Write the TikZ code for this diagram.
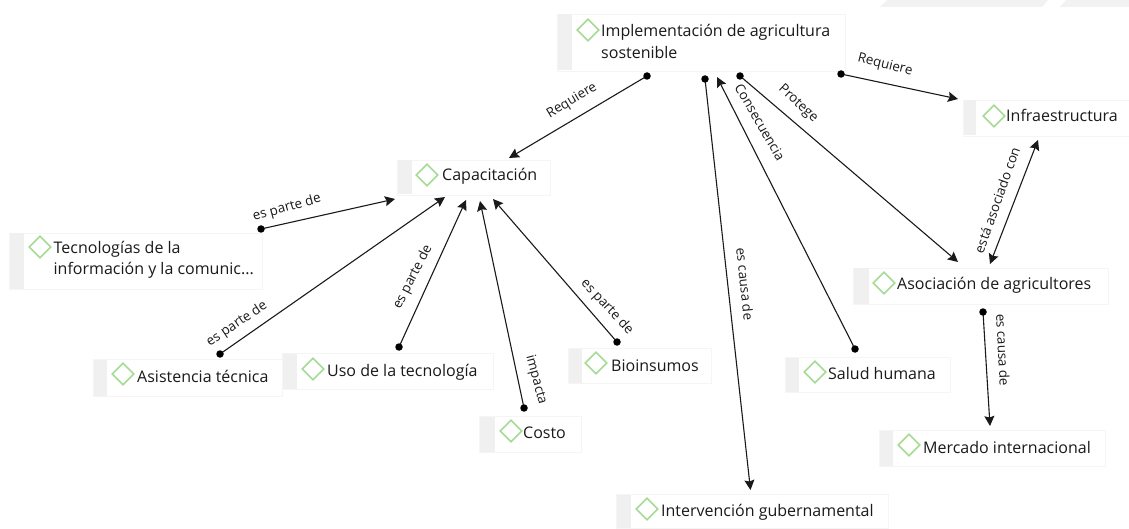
\documentclass[tikz,border=0pt]{standalone}
\usepackage{fontspec}
\setmainfont{Open Sans}
\usetikzlibrary{arrows.meta,shapes.geometric}
\definecolor{ink}{HTML}{1A1A1A}
\definecolor{rimc}{HTML}{F5F5F5}
\definecolor{barc}{HTML}{F0F0F0}
\definecolor{dia}{HTML}{A6DB96}
\newcommand{\concept}[8]{% name, left, top, right, bottom, barend, diamond x, diamond y
  \node[boxbase,minimum width=#4-#2,minimum height=#5-#3,anchor=north west] (#1) at (#2,#3) {};
  \fill[barc] (#2+.5,#3+.5) rectangle (#6,#5-.5);
  \node[diamondmark] (#1d) at (#7,#8) {};
}
\tikzset{
  x=1pt,y=-1pt,
  boxbase/.style={draw=rimc,fill=white,line width=.8pt,inner sep=0pt,outer sep=0pt},
  diamondmark/.style={diamond,draw=dia,fill=white,line width=1.6pt,minimum width=22pt,minimum height=22pt,inner sep=0pt,aspect=1},
  ctext/.style={font=\fontsize{16}{21}\selectfont,text=ink,anchor=base west,inner sep=0pt,align=left,yshift=-1pt},
  lab/.style={font=\fontsize{13.4}{15}\selectfont,text=ink,inner sep=0pt},
  dotend/.style={circle,fill=black,minimum size=7.5pt,inner sep=0pt},
  link/.style={draw=ink,line width=1.1pt,-{Stealth[length=10pt,width=10pt,inset=1.5pt]},shorten <=-1pt},
  duallink/.style={draw=ink,line width=1.1pt,{Stealth[length=10pt,width=10pt,inset=1.5pt]}-{Stealth[length=10pt,width=10pt,inset=1.5pt]}},
}
\begin{document}
\begin{tikzpicture}
\useasboundingbox (0,0) rectangle (1129,529);
\fill[white] (0,0) rectangle (1129,529);
% faint background bands, top right
\fill[black!5] (880,7) -- (887,0) -- (1048,0) -- (1042,7) -- cycle;
\fill[black!5] (1060,7) -- (1066,0) -- (1129,0) -- (1129,7) -- cycle;
% concept boxes
\concept{impl}{557}{14}{845}{71}{572}{588}{30}
\concept{infra}{963}{100}{1129}{136}{976}{994}{116}
\concept{capa}{397}{160}{550}{195}{412}{427}{175}
\concept{tic}{9}{233}{262}{289}{24}{40}{247}
\concept{asis}{93}{359}{282}{396}{107}{123}{374}
\concept{uso}{282}{353}{493}{389}{297}{313}{369}
\concept{costo}{479}{416}{581}{452}{495}{511}{431}
\concept{bio}{568}{348}{711}{383}{582}{596}{363}
\concept{salud}{785}{357}{950}{392}{799}{815}{372}
\concept{asoc}{853}{268}{1108}{304}{869}{884}{283}
\concept{merc}{879}{430}{1105}{466}{893}{909}{445}
\concept{interv}{616}{494}{888}{528}{631}{647}{509}
% concept texts
\node[ctext] (timpl) at (601,36) {Implementación de agricultura};
\node[ctext] (timplb) at (601,58) {sostenible};
\node[ctext] (tinfra) at (1006,121) {Infraestructura};
\node[ctext] (tcapa) at (442,180) {Capacitación};
\node[ctext] (ttic) at (53.5,253) {Tecnologías de la};
\node[ctext] (tticb) at (53.5,274) {información y la comunic...};
\node[ctext] (tasis) at (137,381) {Asistencia técnica};
\node[ctext] (tuso) at (327,375) {Uso de la tecnología};
\node[ctext] (tcosto) at (523,437) {Costo};
\node[ctext] (tbio) at (611,370) {Bioinsumos};
\node[ctext] (tsalud) at (828,378) {Salud humana};
\node[ctext] (tasoc) at (897,289) {Asociación de agricultores};
\node[ctext] (tmerc) at (923,452) {Mercado internacional};
\node[ctext] (tinterv) at (661,515) {Intervención gubernamental};
% connector ends
\node[dotend] (d1) at (647,76) {};
\node[dotend] (d2) at (841,74) {};
\node[dotend] (d3) at (855,349) {};
\node[dotend] (d4) at (740,76) {};
\node[dotend] (d5) at (705,79) {};
\node[dotend] (d6) at (983,312) {};
\node[dotend] (d7) at (261,229) {};
\node[dotend] (d8) at (220,354) {};
\node[dotend] (d9) at (399,347) {};
\node[dotend] (d10) at (524,408) {};
\node[dotend] (d11) at (617,342) {};
\coordinate (a1) at (509,158);
\coordinate (a2) at (958,99);
\coordinate (a3) at (717,77);
\coordinate (a4) at (958,262);
\coordinate (a5) at (750.5,490);
\coordinate (a6) at (990,426);
\coordinate (a7) at (395,199);
\coordinate (a8) at (445,197);
\coordinate (a9) at (466,200);
\coordinate (a10) at (480,201);
\coordinate (a11) at (493,199);
\coordinate (b1) at (1038,140);
\coordinate (b2) at (990,264);
% connectors
\draw[link] (d1) -- (a1);
\draw[link] (d2) -- (a2);
\draw[link] (d3) -- (a3);
\draw[link] (d4) -- (a4);
\draw[link] (d5) -- (a5);
\draw[link] (d6) -- (a6);
\draw[link] (d7) -- (a7);
\draw[link] (d8) -- (a8);
\draw[link] (d9) -- (a9);
\draw[link] (d10) -- (a10);
\draw[link] (d11) -- (a11);
\draw[duallink] (b1) -- (b2);
% connector labels (y axis points down: rotate as on screen)
\node[lab,rotate=31] at (572,101) {Requiere};
\node[lab,rotate=-14] at (885,65) {Requiere};
\node[lab,rotate=-60] at (760,122) {Consecuencia};
\node[lab,rotate=-43] at (798,104) {Protege};
\node[lab,rotate=-84] at (745,284) {es causa de};
\node[lab,rotate=70.5] at (997,200) {está asociado con};
\node[lab,rotate=-87] at (1003,350) {es causa de};
\node[lab,rotate=15.6] at (287,208) {es parte de};
\node[lab,rotate=34] at (237,324) {es parte de};
\node[lab,rotate=63] at (413,277) {es parte de};
\node[lab,rotate=-75] at (536,380) {impacta};
\node[lab,rotate=-47] at (607,307) {es parte de};
\end{tikzpicture}
\end{document}
